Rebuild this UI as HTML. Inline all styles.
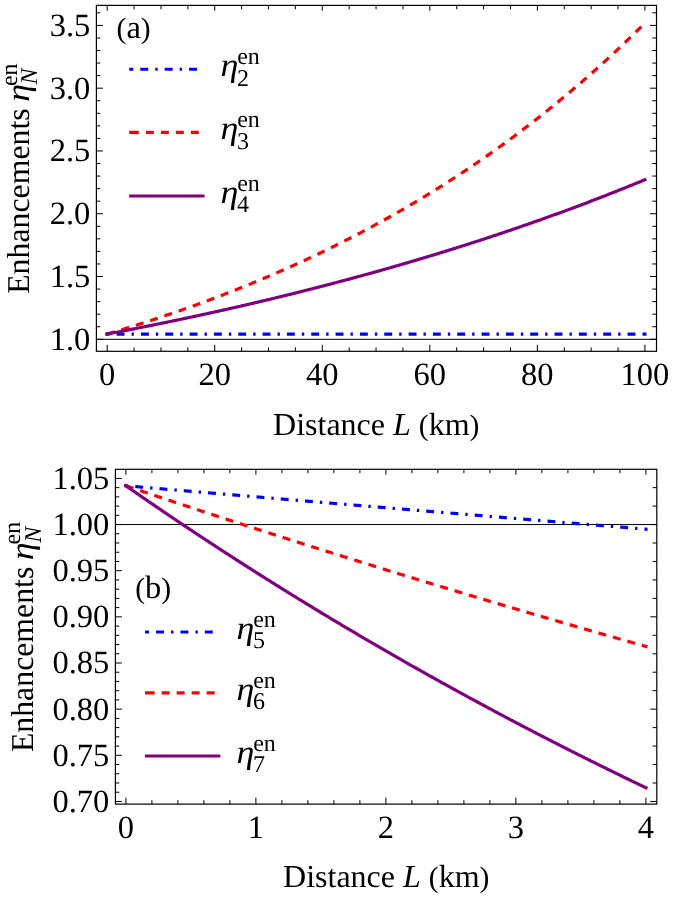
<!DOCTYPE html>
<html lang="en"><head><meta charset="utf-8"><title>Enhancements vs distance</title>
<style>
html,body{margin:0;padding:0;background:#fff;}
body{width:674px;height:897px;overflow:hidden;font-family:"Liberation Serif",serif;}
svg{display:block;will-change:transform;}
text{font-family:"Liberation Serif",serif;fill:#000;text-rendering:geometricPrecision;}
.it{font-style:italic;}
</style></head><body>
<svg width="674" height="897" viewBox="0 0 674 897">
<rect x="0" y="0" width="674" height="897" fill="#fff"/>
<line x1="96.4" y1="339.3" x2="656.5" y2="339.3" stroke="#000" stroke-width="1"/>
<path d="M105.55,334.03L107.2,334.03L108.54,334.03L109.6,334.03M116.6,334.03L116.61,334.03L117.95,334.03L119.3,334.03L120.64,334.03L121.99,334.03L123.33,334.03L124.53,334.03M131.53,334.03L132.74,334.03L133.93,334.03M140.93,334.03L142.15,334.03L143.49,334.03L144.84,334.03L146.18,334.03L147.53,334.03L148.86,334.03M155.86,334.03L156.94,334.03L158.26,334.03M165.26,334.03L166.35,334.03L167.69,334.03L169.04,334.03L170.38,334.03L171.72,334.03L173.07,334.03L173.19,334.03M180.19,334.03L181.13,334.03L182.48,334.03L182.59,334.03M189.59,334.03L190.54,334.03L191.89,334.03L193.23,334.03L194.58,334.03L195.92,334.03L197.26,334.03L197.52,334.03M204.52,334.03L205.33,334.03L206.67,334.03L206.92,334.03M213.92,334.03L214.74,334.03L216.08,334.03L217.43,334.03L218.77,334.03L220.12,334.03L221.46,334.03L221.85,334.03M228.85,334.03L229.53,334.03L230.87,334.03L231.25,334.03M238.25,334.03L238.94,334.03L240.28,334.03L241.62,334.03L242.97,334.03L244.31,334.03L245.66,334.03L246.18,334.03M253.18,334.03L253.72,334.03L255.07,334.03L255.58,334.03M262.58,334.03L263.13,334.03L264.48,334.03L265.82,334.03L267.17,334.03L268.51,334.03L269.85,334.03L270.51,334.03M277.51,334.03L277.92,334.03L279.26,334.03L279.91,334.03M286.91,334.03L287.33,334.03L288.67,334.03L290.02,334.03L291.36,334.03L292.71,334.03L294.05,334.03L294.84,334.03M301.84,334.03L302.12,334.03L303.46,334.03L304.24,334.03M311.24,334.03L311.53,334.03L312.87,334.03L314.21,334.03L315.56,334.03L316.9,334.03L318.25,334.03L319.17,334.03M326.17,334.03L326.31,334.03L327.66,334.03L328.57,334.03M335.57,334.03L335.72,334.03L337.07,334.03L338.41,334.03L339.76,334.03L341.1,334.03L342.44,334.03L343.5,334.03M350.5,334.03L350.51,334.03L351.85,334.03L352.9,334.03M359.9,334.03L359.92,334.03L361.26,334.03L362.61,334.03L363.95,334.03L365.3,334.03L366.64,334.03L367.83,334.03M374.83,334.03L376.05,334.03L377.23,334.03M384.23,334.03L385.46,334.03L386.8,334.03L388.15,334.03L389.49,334.03L390.84,334.03L392.16,334.03M399.16,334.03L400.25,334.03L401.56,334.03M408.56,334.03L409.66,334.03L411,334.03L412.34,334.03L413.69,334.03L415.03,334.03L416.38,334.03L416.49,334.03M423.49,334.03L424.44,334.03L425.79,334.03L425.89,334.03M432.89,334.03L433.85,334.03L435.2,334.03L436.54,334.03L437.89,334.03L439.23,334.03L440.57,334.03L440.82,334.03M447.82,334.03L448.64,334.03L449.98,334.03L450.22,334.03M457.22,334.03L458.05,334.03L459.39,334.03L460.74,334.03L462.08,334.03L463.43,334.03L464.77,334.03L465.15,334.03M472.15,334.03L472.84,334.03L474.18,334.03L474.55,334.03M481.55,334.03L482.25,334.03L483.59,334.03L484.93,334.03L486.28,334.03L487.62,334.03L488.97,334.03L489.48,334.03M496.48,334.03L497.03,334.03L498.38,334.03L498.88,334.03M505.88,334.03L506.44,334.03L507.79,334.03L509.13,334.03L510.47,334.03L511.82,334.03L513.16,334.03L513.81,334.03M520.81,334.03L521.23,334.03L522.57,334.03L523.21,334.03M530.21,334.03L530.64,334.03L531.98,334.03L533.33,334.03L534.67,334.03L536.02,334.03L537.36,334.03L538.14,334.03M545.14,334.03L545.43,334.03L546.77,334.03L547.54,334.03M554.54,334.03L554.84,334.03L556.18,334.03L557.52,334.03L558.87,334.03L560.21,334.03L561.56,334.03L562.47,334.03M569.47,334.03L569.62,334.03L570.97,334.03L571.87,334.03M578.87,334.03L579.03,334.03L580.38,334.03L581.72,334.03L583.06,334.03L584.41,334.03L585.75,334.03L586.8,334.03M593.8,334.03L593.82,334.03L595.16,334.03L596.2,334.03M603.2,334.03L603.23,334.03L604.57,334.03L605.92,334.03L607.26,334.03L608.61,334.03L609.95,334.03L611.13,334.03M618.13,334.03L619.36,334.03L620.53,334.03M627.53,334.03L628.77,334.03L630.11,334.03L631.46,334.03L632.8,334.03L634.15,334.03L635.46,334.03M642.46,334.03L643.56,334.03L644.86,334.03L646.51,334.03" fill="none" stroke="#0000ff" stroke-width="3.2"/>
<path d="M105.62,334.5L107.2,334.03L108.54,333.63L109.89,333.23L111.23,332.83L112.58,332.42L113.92,332.02L114.87,331.74M121.56,329.7L121.99,329.57L123.33,329.16L124.68,328.75L126.02,328.33L127.36,327.92L128.71,327.5L129.21,327.34M135.89,325.25L136.77,324.97L138.12,324.54L139.46,324.12L140.81,323.69L142.15,323.26L143.49,322.83L143.51,322.82M150.17,320.66L150.22,320.65L151.56,320.21L152.9,319.77L154.25,319.33L155.59,318.88L156.94,318.44L157.77,318.16M164.41,315.94L165,315.74L166.35,315.29L167.69,314.83L169.04,314.37L170.38,313.91L171.72,313.45L171.98,313.37M178.6,311.08L179.79,310.66L181.13,310.19L182.48,309.72L183.82,309.25L185.17,308.78L186.14,308.43M192.74,306.08L193.23,305.9L194.58,305.42L195.92,304.93L197.26,304.44L198.61,303.95L199.95,303.46L200.26,303.35M206.83,300.93L208.02,300.49L209.36,299.99L210.71,299.49L212.05,298.98L213.4,298.48L214.32,298.13M220.86,295.64L221.46,295.41L222.81,294.9L224.15,294.38L225.49,293.86L226.84,293.34L228.18,292.82L228.33,292.76M234.84,290.2L234.9,290.18L236.25,289.65L237.59,289.11L238.94,288.58L240.28,288.04L241.62,287.5L242.27,287.24M248.76,284.61L249.69,284.23L251.03,283.68L252.38,283.13L253.72,282.58L255.07,282.02L256.16,281.57M262.62,278.87L263.13,278.65L264.48,278.09L265.82,277.52L267.17,276.95L268.51,276.37L269.85,275.8L269.98,275.74M276.41,272.97L276.58,272.9L277.92,272.32L279.26,271.73L280.61,271.14L281.95,270.55L283.3,269.96L283.74,269.76M290.13,266.92L291.36,266.37L292.71,265.76L294.05,265.16L295.39,264.55L296.74,263.94L297.43,263.63M303.79,260.71L304.8,260.24L306.15,259.61L307.49,258.99L308.84,258.36L310.18,257.73L311.04,257.33M317.37,254.33L318.25,253.91L319.59,253.27L320.94,252.63L322.28,251.98L323.62,251.33L324.58,250.87M330.87,247.8L331.69,247.4L333.03,246.74L334.38,246.07L335.72,245.4L337.07,244.74L338.04,244.25M344.29,241.11L345.13,240.68L346.48,240L347.82,239.31L349.17,238.62L350.51,237.94L351.42,237.47M357.63,234.25L358.57,233.75L359.92,233.05L361.26,232.34L362.61,231.64L363.95,230.93L364.71,230.52M370.89,227.22L372.02,226.62L373.36,225.89L374.71,225.16L376.05,224.43L377.39,223.7L377.92,223.41M384.05,220.04L384.12,220L385.46,219.26L386.8,218.51L388.15,217.76L389.49,217L390.84,216.25L391.04,216.14M397.13,212.68L397.56,212.44L398.9,211.67L400.25,210.9L401.59,210.12L402.94,209.35L404.06,208.69M410.11,205.17L411,204.64L412.34,203.85L413.69,203.05L415.03,202.25L416.38,201.45L416.99,201.09M422.99,197.48L423.1,197.42L424.44,196.6L425.79,195.78L427.13,194.96L428.48,194.14L429.82,193.32M435.77,189.63L436.54,189.15L437.89,188.31L439.23,187.47L440.57,186.63L441.92,185.78L442.55,185.38M448.45,181.62L448.64,181.5L449.98,180.64L451.33,179.77L452.67,178.9L454.02,178.03L455.17,177.28M461.03,173.44L462.08,172.75L463.43,171.86L464.77,170.96L466.11,170.07L467.46,169.17L467.69,169.01M473.49,165.1L474.18,164.64L475.52,163.72L476.87,162.8L478.21,161.88L479.56,160.96L480.1,160.59M485.85,156.6L486.28,156.3L487.62,155.36L488.97,154.42L490.31,153.47L491.66,152.52L492.4,152M498.1,147.94L498.38,147.74L499.72,146.77L501.07,145.8L502.41,144.83L503.75,143.85L504.58,143.25M510.23,139.11L510.47,138.93L511.82,137.94L513.16,136.94L514.51,135.94L515.85,134.94L516.65,134.34M522.24,130.13L522.57,129.88L523.92,128.86L525.26,127.84L526.61,126.81L527.95,125.78L528.6,125.28M534.14,121L534.67,120.59L536.02,119.54L537.36,118.48L538.7,117.43L540.05,116.37L540.44,116.06M545.92,111.71L546.77,111.03L548.11,109.95L549.46,108.87L550.8,107.78L552.15,106.7L552.15,106.69M557.57,102.27L558.87,101.2L560.21,100.1L561.56,98.99L562.9,97.87L563.74,97.17M569.11,92.68L569.62,92.25L570.97,91.11L572.31,89.97L573.65,88.83L575,87.68L575.21,87.5M580.52,82.94L581.72,81.9L583.06,80.73L584.41,79.56L585.75,78.39L586.55,77.69M591.8,73.06L592.47,72.47L593.82,71.27L595.16,70.07L596.51,68.87L597.77,67.73M602.96,63.04L603.23,62.8L604.57,61.57L605.92,60.34L607.26,59.11L608.61,57.87L608.86,57.64M614,52.88L615.33,51.64L616.67,50.38L618.01,49.11L619.36,47.85L619.83,47.4M624.9,42.58L626.08,41.45L627.42,40.16L628.77,38.87L630.11,37.57L630.67,37.03M635.68,32.15L636.83,31.02L638.18,29.7L639.52,28.37L640.87,27.04L641.38,26.53" fill="none" stroke="#ff0000" stroke-width="3.2"/>
<path d="M105.58,334.33L107.2,334.03L108.54,333.77L109.89,333.52L111.23,333.26L112.58,333L113.92,332.75L115.27,332.49L116.61,332.23L117.95,331.97L119.3,331.71L120.64,331.45L121.99,331.19L123.33,330.93L124.68,330.67L126.02,330.41L127.36,330.15L128.71,329.89L130.05,329.62L131.4,329.36L132.74,329.09L134.09,328.83L135.43,328.56L136.77,328.3L138.12,328.03L139.46,327.77L140.81,327.5L142.15,327.23L143.49,326.96L144.84,326.69L146.18,326.42L147.53,326.15L148.87,325.88L150.22,325.61L151.56,325.34L152.9,325.07L154.25,324.8L155.59,324.52L156.94,324.25L158.28,323.98L159.63,323.7L160.97,323.43L162.31,323.15L163.66,322.88L165,322.6L166.35,322.32L167.69,322.04L169.04,321.76L170.38,321.49L171.72,321.21L173.07,320.93L174.41,320.65L175.76,320.36L177.1,320.08L178.45,319.8L179.79,319.52L181.13,319.23L182.48,318.95L183.82,318.67L185.17,318.38L186.51,318.1L187.86,317.81L189.2,317.52L190.54,317.24L191.89,316.95L193.23,316.66L194.58,316.37L195.92,316.08L197.26,315.79L198.61,315.5L199.95,315.21L201.3,314.92L202.64,314.63L203.99,314.33L205.33,314.04L206.67,313.75L208.02,313.45L209.36,313.16L210.71,312.86L212.05,312.56L213.4,312.27L214.74,311.97L216.08,311.67L217.43,311.37L218.77,311.07L220.12,310.77L221.46,310.47L222.81,310.17L224.15,309.87L225.49,309.57L226.84,309.27L228.18,308.96L229.53,308.66L230.87,308.35L232.22,308.05L233.56,307.74L234.9,307.44L236.25,307.13L237.59,306.82L238.94,306.51L240.28,306.21L241.62,305.9L242.97,305.59L244.31,305.28L245.66,304.96L247,304.65L248.35,304.34L249.69,304.03L251.03,303.71L252.38,303.4L253.72,303.09L255.07,302.77L256.41,302.45L257.76,302.14L259.1,301.82L260.44,301.5L261.79,301.18L263.13,300.87L264.48,300.55L265.82,300.23L267.17,299.9L268.51,299.58L269.85,299.26L271.2,298.94L272.54,298.61L273.89,298.29L275.23,297.97L276.58,297.64L277.92,297.31L279.26,296.99L280.61,296.66L281.95,296.33L283.3,296L284.64,295.67L285.99,295.34L287.33,295.01L288.67,294.68L290.02,294.35L291.36,294.02L292.71,293.69L294.05,293.35L295.39,293.02L296.74,292.68L298.08,292.35L299.43,292.01L300.77,291.67L302.12,291.34L303.46,291L304.8,290.66L306.15,290.32L307.49,289.98L308.84,289.64L310.18,289.3L311.53,288.95L312.87,288.61L314.21,288.27L315.56,287.92L316.9,287.58L318.25,287.23L319.59,286.89L320.94,286.54L322.28,286.19L323.62,285.84L324.97,285.5L326.31,285.15L327.66,284.8L329,284.44L330.35,284.09L331.69,283.74L333.03,283.39L334.38,283.03L335.72,282.68L337.07,282.32L338.41,281.97L339.76,281.61L341.1,281.25L342.44,280.9L343.79,280.54L345.13,280.18L346.48,279.82L347.82,279.46L349.17,279.1L350.51,278.73L351.85,278.37L353.2,278.01L354.54,277.64L355.89,277.28L357.23,276.91L358.57,276.55L359.92,276.18L361.26,275.81L362.61,275.44L363.95,275.07L365.3,274.7L366.64,274.33L367.98,273.96L369.33,273.59L370.67,273.22L372.02,272.84L373.36,272.47L374.71,272.09L376.05,271.72L377.39,271.34L378.74,270.96L380.08,270.59L381.43,270.21L382.77,269.83L384.12,269.45L385.46,269.07L386.8,268.69L388.15,268.3L389.49,267.92L390.84,267.54L392.18,267.15L393.53,266.77L394.87,266.38L396.21,265.99L397.56,265.6L398.9,265.22L400.25,264.83L401.59,264.44L402.94,264.05L404.28,263.66L405.62,263.26L406.97,262.87L408.31,262.48L409.66,262.08L411,261.69L412.34,261.29L413.69,260.89L415.03,260.5L416.38,260.1L417.72,259.7L419.07,259.3L420.41,258.9L421.75,258.5L423.1,258.09L424.44,257.69L425.79,257.29L427.13,256.88L428.48,256.48L429.82,256.07L431.16,255.66L432.51,255.26L433.85,254.85L435.2,254.44L436.54,254.03L437.89,253.62L439.23,253.2L440.57,252.79L441.92,252.38L443.26,251.96L444.61,251.55L445.95,251.13L447.3,250.72L448.64,250.3L449.98,249.88L451.33,249.46L452.67,249.04L454.02,248.62L455.36,248.2L456.7,247.78L458.05,247.35L459.39,246.93L460.74,246.51L462.08,246.08L463.43,245.65L464.77,245.23L466.11,244.8L467.46,244.37L468.8,243.94L470.15,243.51L471.49,243.08L472.84,242.64L474.18,242.21L475.52,241.78L476.87,241.34L478.21,240.91L479.56,240.47L480.9,240.03L482.25,239.59L483.59,239.16L484.93,238.72L486.28,238.27L487.62,237.83L488.97,237.39L490.31,236.95L491.66,236.5L493,236.06L494.34,235.61L495.69,235.16L497.03,234.72L498.38,234.27L499.72,233.82L501.07,233.37L502.41,232.92L503.75,232.47L505.1,232.01L506.44,231.56L507.79,231.1L509.13,230.65L510.47,230.19L511.82,229.73L513.16,229.28L514.51,228.82L515.85,228.36L517.2,227.89L518.54,227.43L519.88,226.97L521.23,226.51L522.57,226.04L523.92,225.58L525.26,225.11L526.61,224.64L527.95,224.17L529.29,223.7L530.64,223.23L531.98,222.76L533.33,222.29L534.67,221.82L536.02,221.35L537.36,220.87L538.7,220.39L540.05,219.92L541.39,219.44L542.74,218.96L544.08,218.48L545.43,218L546.77,217.52L548.11,217.04L549.46,216.56L550.8,216.07L552.15,215.59L553.49,215.1L554.84,214.61L556.18,214.13L557.52,213.64L558.87,213.15L560.21,212.66L561.56,212.17L562.9,211.67L564.25,211.18L565.59,210.68L566.93,210.19L568.28,209.69L569.62,209.2L570.97,208.7L572.31,208.2L573.65,207.7L575,207.2L576.34,206.69L577.69,206.19L579.03,205.69L580.38,205.18L581.72,204.67L583.06,204.17L584.41,203.66L585.75,203.15L587.1,202.64L588.44,202.13L589.79,201.62L591.13,201.1L592.47,200.59L593.82,200.07L595.16,199.56L596.51,199.04L597.85,198.52L599.2,198L600.54,197.48L601.88,196.96L603.23,196.44L604.57,195.92L605.92,195.39L607.26,194.87L608.61,194.34L609.95,193.81L611.29,193.29L612.64,192.76L613.98,192.23L615.33,191.69L616.67,191.16L618.01,190.63L619.36,190.09L620.7,189.56L622.05,189.02L623.39,188.48L624.74,187.94L626.08,187.4L627.42,186.86L628.77,186.32L630.11,185.78L631.46,185.23L632.8,184.69L634.15,184.14L635.49,183.6L636.83,183.05L638.18,182.5L639.52,181.95L640.87,181.4L642.21,180.84L643.56,180.29L644.9,179.74L646.43,179.11" fill="none" stroke="#800080" stroke-width="3.2"/>
<rect x="96.4" y="5.4" width="560.1" height="345.9" fill="none" stroke="#000" stroke-width="1.2"/>
<path d="M107.2,351.3v-6.5M107.2,5.4v5.4M134.09,351.3v-3.9M134.09,5.4v3.9M160.97,351.3v-3.9M160.97,5.4v3.9M187.86,351.3v-3.9M187.86,5.4v3.9M214.74,351.3v-6.5M214.74,5.4v5.4M241.62,351.3v-3.9M241.62,5.4v3.9M268.51,351.3v-3.9M268.51,5.4v3.9M295.39,351.3v-3.9M295.39,5.4v3.9M322.28,351.3v-6.5M322.28,5.4v5.4M349.17,351.3v-3.9M349.17,5.4v3.9M376.05,351.3v-3.9M376.05,5.4v3.9M402.94,351.3v-3.9M402.94,5.4v3.9M429.82,351.3v-6.5M429.82,5.4v5.4M456.7,351.3v-3.9M456.7,5.4v3.9M483.59,351.3v-3.9M483.59,5.4v3.9M510.47,351.3v-3.9M510.47,5.4v3.9M537.36,351.3v-6.5M537.36,5.4v5.4M564.25,351.3v-3.9M564.25,5.4v3.9M591.13,351.3v-3.9M591.13,5.4v3.9M618.01,351.3v-3.9M618.01,5.4v3.9M644.9,351.3v-6.5M644.9,5.4v5.4M96.4,339.3h6.5M96.4,326.74h3.9M96.4,314.19h3.9M96.4,301.63h3.9M96.4,289.08h3.9M96.4,276.52h6.5M96.4,263.96h3.9M96.4,251.41h3.9M96.4,238.85h3.9M96.4,226.3h3.9M96.4,213.74h6.5M96.4,201.18h3.9M96.4,188.63h3.9M96.4,176.07h3.9M96.4,163.52h3.9M96.4,150.96h6.5M96.4,138.4h3.9M96.4,125.85h3.9M96.4,113.29h3.9M96.4,100.74h3.9M96.4,88.18h6.5M96.4,75.62h3.9M96.4,63.07h3.9M96.4,50.51h3.9M96.4,37.96h3.9M96.4,25.4h6.5M96.4,12.84h3.9M656.5,339.3h-6.5M656.5,326.74h-4.2M656.5,314.19h-4.2M656.5,301.63h-4.2M656.5,289.08h-4.2M656.5,276.52h-6.5M656.5,263.96h-4.2M656.5,251.41h-4.2M656.5,238.85h-4.2M656.5,226.3h-4.2M656.5,213.74h-6.5M656.5,201.18h-4.2M656.5,188.63h-4.2M656.5,176.07h-4.2M656.5,163.52h-4.2M656.5,150.96h-6.5M656.5,138.4h-4.2M656.5,125.85h-4.2M656.5,113.29h-4.2M656.5,100.74h-4.2M656.5,88.18h-6.5M656.5,75.62h-4.2M656.5,63.07h-4.2M656.5,50.51h-4.2M656.5,37.96h-4.2M656.5,25.4h-6.5M656.5,12.84h-4.2" fill="none" stroke="#000" stroke-width="1"/>
<text x="107.2" y="385.4" font-size="32.5" text-anchor="middle">0</text>
<text x="214.74" y="385.4" font-size="32.5" text-anchor="middle">20</text>
<text x="322.28" y="385.4" font-size="32.5" text-anchor="middle">40</text>
<text x="429.82" y="385.4" font-size="32.5" text-anchor="middle">60</text>
<text x="537.36" y="385.4" font-size="32.5" text-anchor="middle">80</text>
<text x="644.9" y="385.4" font-size="32.5" text-anchor="middle">100</text>
<text x="90.3" y="349.7" font-size="32.5" text-anchor="end">1.0</text>
<text x="90.3" y="286.92" font-size="32.5" text-anchor="end">1.5</text>
<text x="90.3" y="224.14" font-size="32.5" text-anchor="end">2.0</text>
<text x="90.3" y="161.36" font-size="32.5" text-anchor="end">2.5</text>
<text x="90.3" y="98.58" font-size="32.5" text-anchor="end">3.0</text>
<text x="90.3" y="35.8" font-size="32.5" text-anchor="end">3.5</text>
<line x1="115.4" y1="524.55" x2="656.8" y2="524.55" stroke="#000" stroke-width="1"/>
<path d="M124.26,485.64L125.9,485.78L127.2,485.89L128.29,485.99M135.27,486.58L136.3,486.67L137.6,486.78L138.9,486.89L140.2,487L141.5,487.11L142.8,487.23L143.17,487.26M150.14,487.85L150.6,487.89L151.9,488L152.53,488.06M159.51,488.65L159.7,488.67L161,488.78L162.3,488.89L163.6,489L164.9,489.11L166.2,489.22L167.41,489.32M174.38,489.91L175.3,489.99L176.6,490.1L176.78,490.12M183.75,490.71L184.4,490.77L185.7,490.88L187,490.99L188.3,491.1L189.6,491.21L190.9,491.32L191.65,491.38M198.63,491.97L198.7,491.98L200,492.09L201.02,492.18M207.99,492.77L209.1,492.86L210.4,492.97L211.7,493.08L213,493.19L214.3,493.3L215.6,493.41L215.9,493.44M222.87,494.03L223.4,494.07L224.7,494.18L225.26,494.23M232.24,494.82L232.5,494.84L233.8,494.95L235.1,495.06L236.4,495.17L237.7,495.28L239,495.39L240.14,495.49M247.11,496.08L248.1,496.16L249.4,496.27L249.51,496.28M256.48,496.87L257.2,496.93L258.5,497.04L259.8,497.15L261.1,497.26L262.4,497.37L263.7,497.48L264.38,497.53M271.36,498.12L271.5,498.13L272.8,498.24L273.75,498.32M280.72,498.91L281.9,499.01L283.2,499.12L284.5,499.23L285.8,499.34L287.1,499.45L288.4,499.56L288.63,499.58M295.6,500.16L296.2,500.21L297.5,500.32L297.99,500.36M304.97,500.95L305.3,500.98L306.6,501.09L307.9,501.2L309.2,501.31L310.5,501.42L311.8,501.53L312.87,501.61M319.85,502.2L320.9,502.29L322.2,502.4L322.24,502.4M329.21,502.99L330,503.05L331.3,503.16L332.6,503.27L333.9,503.38L335.2,503.49L336.5,503.6L337.12,503.65M344.09,504.23L344.3,504.25L345.6,504.36L346.48,504.43M353.46,505.02L354.7,505.12L356,505.23L357.3,505.34L358.6,505.45L359.9,505.56L361.2,505.66L361.36,505.68M368.34,506.26L369,506.32L370.3,506.42L370.73,506.46M377.7,507.04L378.1,507.08L379.4,507.18L380.7,507.29L382,507.4L383.3,507.51L384.6,507.62L385.61,507.7M392.58,508.28L393.7,508.38L394.97,508.48M401.95,509.07L402.8,509.14L404.1,509.24L405.4,509.35L406.7,509.46L408,509.57L409.3,509.68L409.85,509.72M416.83,510.3L417.1,510.33L418.4,510.43L419.22,510.5M426.2,511.08L426.2,511.08L427.5,511.19L428.8,511.3L430.1,511.41L431.4,511.52L432.7,511.62L434,511.73L434.1,511.74M441.07,512.32L441.8,512.38L443.1,512.49L443.47,512.52M450.44,513.1L450.9,513.13L452.2,513.24L453.5,513.35L454.8,513.46L456.1,513.57L457.4,513.67L458.35,513.75M465.32,514.33L466.5,514.43L467.71,514.53M474.69,515.11L475.6,515.18L476.9,515.29L478.2,515.4L479.5,515.5L480.8,515.61L482.1,515.72L482.59,515.76M489.57,516.34L489.9,516.36L491.2,516.47L491.96,516.53M498.94,517.11L499,517.12L500.3,517.22L501.6,517.33L502.9,517.44L504.2,517.55L505.5,517.65L506.8,517.76L506.84,517.76M513.82,518.34L514.6,518.4L515.9,518.51L516.21,518.54M523.18,519.11L523.7,519.15L525,519.26L526.3,519.37L527.6,519.47L528.9,519.58L530.2,519.69L531.09,519.76M538.06,520.34L539.3,520.44L540.46,520.53M547.43,521.11L548.4,521.19L549.7,521.29L551,521.4L552.3,521.51L553.6,521.61L554.9,521.72L555.34,521.76M562.31,522.33L562.7,522.36L564,522.47L564.7,522.53M571.68,523.1L571.8,523.11L573.1,523.22L574.4,523.32L575.7,523.43L577,523.54L578.3,523.64L579.58,523.75M586.56,524.32L587.4,524.39L588.7,524.5L588.95,524.52M595.93,525.09L596.5,525.13L597.8,525.24L599.1,525.35L600.4,525.45L601.7,525.56L603,525.67L603.83,525.73M610.81,526.3L612.1,526.41L613.2,526.5M620.18,527.07L621.2,527.15L622.5,527.26L623.8,527.37L625.1,527.47L626.4,527.58L627.7,527.69L628.08,527.72M635.06,528.29L635.5,528.32L636.8,528.43L637.45,528.48M644.43,529.05L644.6,529.06L645.9,529.17L647.54,529.3" fill="none" stroke="#0000ff" stroke-width="3.2"/>
<path d="M124.34,485.26L125.9,485.78L127.2,486.22L128.5,486.66L129.8,487.1L131.1,487.54L132.4,487.98L133.48,488.34M140.11,490.58L140.2,490.6L141.5,491.04L142.8,491.48L144.1,491.92L145.4,492.35L146.7,492.79L147.7,493.12M154.34,495.35L154.5,495.4L155.8,495.84L157.1,496.27L158.4,496.7L159.7,497.14L161,497.57L161.92,497.88M168.56,500.09L168.8,500.17L170.1,500.61L171.4,501.04L172.7,501.47L174,501.9L175.3,502.33L176.16,502.62M182.8,504.82L183.1,504.92L184.4,505.35L185.7,505.78L187,506.21L188.3,506.64L189.6,507.07L190.39,507.33M197.04,509.53L197.4,509.65L198.7,510.07L200,510.5L201.3,510.93L202.6,511.36L203.9,511.79L204.64,512.03M211.29,514.21L211.7,514.35L213,514.77L214.3,515.2L215.6,515.63L216.9,516.05L218.2,516.48L218.89,516.7M225.55,518.88L226,519.02L227.3,519.45L228.6,519.87L229.9,520.3L231.2,520.72L232.5,521.14L233.15,521.36M239.81,523.52L240.3,523.68L241.6,524.1L242.9,524.52L244.2,524.94L245.5,525.37L246.8,525.79L247.42,525.99M254.08,528.14L254.6,528.31L255.9,528.73L257.2,529.15L258.5,529.57L259.8,529.99L261.1,530.41L261.7,530.6M268.36,532.74L268.9,532.92L270.2,533.33L271.5,533.75L272.8,534.17L274.1,534.59L275.4,535L275.98,535.19M282.64,537.32L283.2,537.5L284.5,537.92L285.8,538.33L287.1,538.75L288.4,539.16L289.7,539.58L290.26,539.76M296.93,541.88L297.5,542.06L298.8,542.48L300.1,542.89L301.4,543.3L302.7,543.72L304,544.13L304.56,544.3M311.23,546.42L311.8,546.6L313.1,547.01L314.4,547.42L315.7,547.83L317,548.25L318.3,548.66L318.86,548.83M325.53,550.94L326.1,551.12L327.4,551.53L328.7,551.94L330,552.34L331.3,552.75L332.6,553.16L333.16,553.34M339.84,555.44L340.4,555.61L341.7,556.02L343,556.42L344.3,556.83L345.6,557.24L346.9,557.64L347.48,557.83M354.16,559.91L354.7,560.08L356,560.49L357.3,560.89L358.6,561.3L359.9,561.7L361.2,562.1L361.8,562.29M368.48,564.37L369,564.53L370.3,564.93L371.6,565.33L372.9,565.74L374.2,566.14L375.5,566.54L376.12,566.74M382.81,568.8L383.3,568.95L384.6,569.36L385.9,569.76L387.2,570.16L388.5,570.56L389.8,570.96L390.46,571.16M397.15,573.22L397.6,573.36L398.9,573.76L400.2,574.16L401.5,574.56L402.8,574.95L404.1,575.35L404.8,575.57M411.49,577.61L411.9,577.74L413.2,578.14L414.5,578.53L415.8,578.93L417.1,579.33L418.4,579.72L419.14,579.95M425.84,581.99L426.2,582.1L427.5,582.49L428.8,582.89L430.1,583.28L431.4,583.68L432.7,584.07L433.49,584.31M440.19,586.34L440.5,586.44L441.8,586.83L443.1,587.22L444.4,587.62L445.7,588.01L447,588.4L447.85,588.66M454.55,590.68L454.8,590.75L456.1,591.14L457.4,591.54L458.7,591.93L460,592.32L461.3,592.71L462.21,592.98M468.92,594.99L469.1,595.05L470.4,595.44L471.7,595.83L473,596.22L474.3,596.6L475.6,596.99L476.58,597.29M483.29,599.29L483.4,599.32L484.7,599.71L486,600.1L487.3,600.48L488.6,600.87L489.9,601.26L490.96,601.57M497.67,603.56L497.7,603.57L499,603.96L500.3,604.34L501.6,604.73L502.9,605.11L504.2,605.5L505.34,605.83M512.05,607.82L513.3,608.19L514.6,608.57L515.9,608.95L517.2,609.34L518.5,609.72L519.72,610.08M526.44,612.05L527.6,612.39L528.9,612.77L530.2,613.16L531.5,613.54L532.8,613.92L534.1,614.3L534.12,614.3M540.84,616.27L541.9,616.58L543.2,616.96L544.5,617.34L545.8,617.72L547.1,618.1L548.4,618.47L548.52,618.51M555.24,620.46L556.2,620.74L557.5,621.12L558.8,621.5L560.1,621.88L561.4,622.25L562.7,622.63L562.92,622.69M569.64,624.64L570.5,624.89L571.8,625.26L573.1,625.64L574.4,626.01L575.7,626.39L577,626.76L577.33,626.86M584.06,628.8L584.8,629.01L586.1,629.39L587.4,629.76L588.7,630.13L590,630.51L591.3,630.88L591.75,631.01M598.47,632.93L599.1,633.11L600.4,633.49L601.7,633.86L603,634.23L604.3,634.6L605.6,634.97L606.17,635.13M612.9,637.05L613.4,637.2L614.7,637.57L616,637.94L617.3,638.31L618.6,638.68L619.9,639.04L620.59,639.24M627.33,641.15L627.7,641.26L629,641.63L630.3,641.99L631.6,642.36L632.9,642.73L634.2,643.1L635.02,643.33M641.76,645.23L642,645.3L643.3,645.67L644.6,646.03L645.9,646.4L647.49,646.84" fill="none" stroke="#ff0000" stroke-width="3.2"/>
<path d="M124.55,484.84L125.9,485.78L127.2,486.69L128.5,487.59L129.8,488.5L131.1,489.4L132.4,490.3L133.7,491.2L135,492.11L136.3,493L137.6,493.9L138.9,494.8L140.2,495.7L141.5,496.59L142.8,497.49L144.1,498.38L145.4,499.28L146.7,500.17L148,501.06L149.3,501.95L150.6,502.84L151.9,503.73L153.2,504.62L154.5,505.51L155.8,506.4L157.1,507.28L158.4,508.17L159.7,509.05L161,509.94L162.3,510.82L163.6,511.7L164.9,512.58L166.2,513.46L167.5,514.34L168.8,515.22L170.1,516.1L171.4,516.98L172.7,517.85L174,518.73L175.3,519.6L176.6,520.48L177.9,521.35L179.2,522.22L180.5,523.09L181.8,523.96L183.1,524.83L184.4,525.7L185.7,526.57L187,527.44L188.3,528.3L189.6,529.17L190.9,530.03L192.2,530.9L193.5,531.76L194.8,532.62L196.1,533.48L197.4,534.34L198.7,535.2L200,536.06L201.3,536.92L202.6,537.78L203.9,538.64L205.2,539.49L206.5,540.35L207.8,541.2L209.1,542.05L210.4,542.91L211.7,543.76L213,544.61L214.3,545.46L215.6,546.31L216.9,547.16L218.2,548L219.5,548.85L220.8,549.7L222.1,550.54L223.4,551.39L224.7,552.23L226,553.07L227.3,553.92L228.6,554.76L229.9,555.6L231.2,556.44L232.5,557.28L233.8,558.12L235.1,558.95L236.4,559.79L237.7,560.63L239,561.46L240.3,562.3L241.6,563.13L242.9,563.96L244.2,564.79L245.5,565.62L246.8,566.46L248.1,567.28L249.4,568.11L250.7,568.94L252,569.77L253.3,570.6L254.6,571.42L255.9,572.25L257.2,573.07L258.5,573.89L259.8,574.72L261.1,575.54L262.4,576.36L263.7,577.18L265,578L266.3,578.82L267.6,579.64L268.9,580.45L270.2,581.27L271.5,582.08L272.8,582.9L274.1,583.71L275.4,584.53L276.7,585.34L278,586.15L279.3,586.96L280.6,587.77L281.9,588.58L283.2,589.39L284.5,590.2L285.8,591.01L287.1,591.81L288.4,592.62L289.7,593.42L291,594.23L292.3,595.03L293.6,595.83L294.9,596.64L296.2,597.44L297.5,598.24L298.8,599.04L300.1,599.84L301.4,600.63L302.7,601.43L304,602.23L305.3,603.02L306.6,603.82L307.9,604.61L309.2,605.41L310.5,606.2L311.8,606.99L313.1,607.78L314.4,608.57L315.7,609.36L317,610.15L318.3,610.94L319.6,611.73L320.9,612.52L322.2,613.3L323.5,614.09L324.8,614.87L326.1,615.66L327.4,616.44L328.7,617.22L330,618.01L331.3,618.79L332.6,619.57L333.9,620.35L335.2,621.12L336.5,621.9L337.8,622.68L339.1,623.46L340.4,624.23L341.7,625.01L343,625.78L344.3,626.56L345.6,627.33L346.9,628.1L348.2,628.87L349.5,629.64L350.8,630.41L352.1,631.18L353.4,631.95L354.7,632.72L356,633.49L357.3,634.25L358.6,635.02L359.9,635.78L361.2,636.55L362.5,637.31L363.8,638.08L365.1,638.84L366.4,639.6L367.7,640.36L369,641.12L370.3,641.88L371.6,642.64L372.9,643.4L374.2,644.15L375.5,644.91L376.8,645.67L378.1,646.42L379.4,647.17L380.7,647.93L382,648.68L383.3,649.43L384.6,650.18L385.9,650.94L387.2,651.69L388.5,652.43L389.8,653.18L391.1,653.93L392.4,654.68L393.7,655.43L395,656.17L396.3,656.92L397.6,657.66L398.9,658.4L400.2,659.15L401.5,659.89L402.8,660.63L404.1,661.37L405.4,662.11L406.7,662.85L408,663.59L409.3,664.33L410.6,665.07L411.9,665.8L413.2,666.54L414.5,667.27L415.8,668.01L417.1,668.74L418.4,669.48L419.7,670.21L421,670.94L422.3,671.67L423.6,672.4L424.9,673.13L426.2,673.86L427.5,674.59L428.8,675.32L430.1,676.04L431.4,676.77L432.7,677.5L434,678.22L435.3,678.95L436.6,679.67L437.9,680.39L439.2,681.12L440.5,681.84L441.8,682.56L443.1,683.28L444.4,684L445.7,684.72L447,685.44L448.3,686.15L449.6,686.87L450.9,687.59L452.2,688.3L453.5,689.02L454.8,689.73L456.1,690.44L457.4,691.16L458.7,691.87L460,692.58L461.3,693.29L462.6,694L463.9,694.71L465.2,695.42L466.5,696.13L467.8,696.84L469.1,697.54L470.4,698.25L471.7,698.95L473,699.66L474.3,700.36L475.6,701.07L476.9,701.77L478.2,702.47L479.5,703.17L480.8,703.87L482.1,704.57L483.4,705.27L484.7,705.97L486,706.67L487.3,707.37L488.6,708.07L489.9,708.76L491.2,709.46L492.5,710.15L493.8,710.85L495.1,711.54L496.4,712.23L497.7,712.93L499,713.62L500.3,714.31L501.6,715L502.9,715.69L504.2,716.38L505.5,717.07L506.8,717.75L508.1,718.44L509.4,719.13L510.7,719.81L512,720.5L513.3,721.18L514.6,721.87L515.9,722.55L517.2,723.23L518.5,723.91L519.8,724.6L521.1,725.28L522.4,725.96L523.7,726.64L525,727.32L526.3,727.99L527.6,728.67L528.9,729.35L530.2,730.02L531.5,730.7L532.8,731.37L534.1,732.05L535.4,732.72L536.7,733.4L538,734.07L539.3,734.74L540.6,735.41L541.9,736.08L543.2,736.75L544.5,737.42L545.8,738.09L547.1,738.76L548.4,739.42L549.7,740.09L551,740.76L552.3,741.42L553.6,742.09L554.9,742.75L556.2,743.42L557.5,744.08L558.8,744.74L560.1,745.4L561.4,746.06L562.7,746.72L564,747.38L565.3,748.04L566.6,748.7L567.9,749.36L569.2,750.02L570.5,750.67L571.8,751.33L573.1,751.99L574.4,752.64L575.7,753.3L577,753.95L578.3,754.6L579.6,755.25L580.9,755.91L582.2,756.56L583.5,757.21L584.8,757.86L586.1,758.51L587.4,759.16L588.7,759.8L590,760.45L591.3,761.1L592.6,761.75L593.9,762.39L595.2,763.04L596.5,763.68L597.8,764.32L599.1,764.97L600.4,765.61L601.7,766.25L603,766.89L604.3,767.53L605.6,768.18L606.9,768.81L608.2,769.45L609.5,770.09L610.8,770.73L612.1,771.37L613.4,772L614.7,772.64L616,773.28L617.3,773.91L618.6,774.54L619.9,775.18L621.2,775.81L622.5,776.44L623.8,777.08L625.1,777.71L626.4,778.34L627.7,778.97L629,779.6L630.3,780.23L631.6,780.85L632.9,781.48L634.2,782.11L635.5,782.74L636.8,783.36L638.1,783.99L639.4,784.61L640.7,785.24L642,785.86L643.3,786.48L644.6,787.11L645.9,787.73L647.39,788.44" fill="none" stroke="#800080" stroke-width="3.2"/>
<rect x="115.4" y="469.3" width="541.4" height="334.8" fill="none" stroke="#000" stroke-width="1.2"/>
<path d="M125.9,804.1v-6.5M125.9,469.3v5.4M151.9,804.1v-3.9M151.9,469.3v3.9M177.9,804.1v-3.9M177.9,469.3v3.9M203.9,804.1v-3.9M203.9,469.3v3.9M229.9,804.1v-3.9M229.9,469.3v3.9M255.9,804.1v-6.5M255.9,469.3v5.4M281.9,804.1v-3.9M281.9,469.3v3.9M307.9,804.1v-3.9M307.9,469.3v3.9M333.9,804.1v-3.9M333.9,469.3v3.9M359.9,804.1v-3.9M359.9,469.3v3.9M385.9,804.1v-6.5M385.9,469.3v5.4M411.9,804.1v-3.9M411.9,469.3v3.9M437.9,804.1v-3.9M437.9,469.3v3.9M463.9,804.1v-3.9M463.9,469.3v3.9M489.9,804.1v-3.9M489.9,469.3v3.9M515.9,804.1v-6.5M515.9,469.3v5.4M541.9,804.1v-3.9M541.9,469.3v3.9M567.9,804.1v-3.9M567.9,469.3v3.9M593.9,804.1v-3.9M593.9,469.3v3.9M619.9,804.1v-3.9M619.9,469.3v3.9M645.9,804.1v-6.5M645.9,469.3v5.4M115.4,801.45h6.5M115.4,792.22h3.9M115.4,782.99h3.9M115.4,773.76h3.9M115.4,764.53h3.9M115.4,755.3h6.5M115.4,746.07h3.9M115.4,736.84h3.9M115.4,727.61h3.9M115.4,718.38h3.9M115.4,709.15h6.5M115.4,699.92h3.9M115.4,690.69h3.9M115.4,681.46h3.9M115.4,672.23h3.9M115.4,663h6.5M115.4,653.77h3.9M115.4,644.54h3.9M115.4,635.31h3.9M115.4,626.08h3.9M115.4,616.85h6.5M115.4,607.62h3.9M115.4,598.39h3.9M115.4,589.16h3.9M115.4,579.93h3.9M115.4,570.7h6.5M115.4,561.47h3.9M115.4,552.24h3.9M115.4,543.01h3.9M115.4,533.78h3.9M115.4,524.55h6.5M115.4,515.32h3.9M115.4,506.09h3.9M115.4,496.86h3.9M115.4,487.63h3.9M115.4,478.4h6.5M656.8,801.45h-6.5M656.8,782.99h-4.2M656.8,764.53h-4.2M656.8,746.07h-4.2M656.8,727.61h-4.2M656.8,709.15h-6.5M656.8,690.69h-4.2M656.8,672.23h-4.2M656.8,653.77h-4.2M656.8,635.31h-4.2M656.8,616.85h-6.5M656.8,598.39h-4.2M656.8,579.93h-4.2M656.8,561.47h-4.2M656.8,543.01h-4.2M656.8,524.55h-6.5M656.8,506.09h-4.2M656.8,487.63h-4.2" fill="none" stroke="#000" stroke-width="1"/>
<text x="125.9" y="838" font-size="32.5" text-anchor="middle">0</text>
<text x="255.9" y="838" font-size="32.5" text-anchor="middle">1</text>
<text x="385.9" y="838" font-size="32.5" text-anchor="middle">2</text>
<text x="515.9" y="838" font-size="32.5" text-anchor="middle">3</text>
<text x="645.9" y="838" font-size="32.5" text-anchor="middle">4</text>
<text x="109.3" y="811.85" font-size="32.5" text-anchor="end">0.70</text>
<text x="109.3" y="765.7" font-size="32.5" text-anchor="end">0.75</text>
<text x="109.3" y="719.55" font-size="32.5" text-anchor="end">0.80</text>
<text x="109.3" y="673.4" font-size="32.5" text-anchor="end">0.85</text>
<text x="109.3" y="627.25" font-size="32.5" text-anchor="end">0.90</text>
<text x="109.3" y="581.1" font-size="32.5" text-anchor="end">0.95</text>
<text x="109.3" y="534.95" font-size="32.5" text-anchor="end">1.00</text>
<text x="109.3" y="488.8" font-size="32.5" text-anchor="end">1.05</text>
<text x="376.2" y="434.6" font-size="32" text-anchor="middle">Distance <tspan class="it">L</tspan> <tspan font-size="29.5">(</tspan>km<tspan font-size="29.5">)</tspan></text>
<text x="386.2" y="887" font-size="32" text-anchor="middle">Distance <tspan class="it">L</tspan> <tspan font-size="29.5">(</tspan>km<tspan font-size="29.5">)</tspan></text>
<g transform="translate(29,293.8) rotate(-90)">
<text x="0" y="0" font-size="31.8">Enhancements</text>
<text transform="translate(191.95 0) scale(1.09 1)" font-size="33" class="it">η</text><text x="209.3" y="8.2" font-size="24" class="it">N</text><text x="207.7" y="-12.3" font-size="24">en</text>
</g>
<g transform="translate(32.7,752.1) rotate(-90)">
<text x="0" y="0" font-size="31.8">Enhancements</text>
<text transform="translate(191.95 0) scale(1.09 1)" font-size="33" class="it">η</text><text x="209.3" y="8.2" font-size="24" class="it">N</text><text x="207.7" y="-12.3" font-size="24">en</text>
</g>
<path d="M129.2,69.25L130.85,69.25L133.25,69.25M140.25,69.25L148.25,69.25M155.25,69.25L157.65,69.25M164.65,69.25L166.9,69.25L172.65,69.25M179.65,69.25L182.05,69.25M189.05,69.25L197.05,69.25" fill="none" stroke="#0000ff" stroke-width="3.2"/>
<text transform="translate(220.5 75.85) scale(1.09 1)" font-size="33" class="it">η</text><text x="237.1" y="85.65" font-size="24">2</text><text x="237.2" y="63.85" font-size="24">en</text>
<path d="M129.2,132.45L130.85,132.45L138.85,132.45M145.85,132.45L148.88,132.45L153.85,132.45M160.85,132.45L166.9,132.45L168.85,132.45M175.85,132.45L183.85,132.45M190.85,132.45L198.85,132.45" fill="none" stroke="#ff0000" stroke-width="3.2"/>
<text transform="translate(220.5 139.05) scale(1.09 1)" font-size="33" class="it">η</text><text x="237.1" y="148.85" font-size="24">3</text><text x="237.2" y="127.05" font-size="24">en</text>
<path d="M129.2,196L130.85,196L148.88,196L166.9,196L184.92,196L202.95,196L204.6,196" fill="none" stroke="#800080" stroke-width="3.2"/>
<text transform="translate(220.5 202.6) scale(1.09 1)" font-size="33" class="it">η</text><text x="237.1" y="212.4" font-size="24">4</text><text x="237.2" y="190.6" font-size="24">en</text>
<path d="M145,632L146.65,632L149.05,632M156.05,632L164.05,632M171.05,632L173.45,632M180.45,632L182.7,632L188.45,632M195.45,632L197.85,632M204.85,632L212.85,632" fill="none" stroke="#0000ff" stroke-width="3.2"/>
<text transform="translate(236.5 638.6) scale(1.09 1)" font-size="33" class="it">η</text><text x="253.1" y="648.4" font-size="24">5</text><text x="253.2" y="626.6" font-size="24">en</text>
<path d="M145,692.9L146.65,692.9L154.65,692.9M161.65,692.9L164.68,692.9L169.65,692.9M176.65,692.9L182.7,692.9L184.65,692.9M191.65,692.9L199.65,692.9M206.65,692.9L214.65,692.9" fill="none" stroke="#ff0000" stroke-width="3.2"/>
<text transform="translate(236.5 699.5) scale(1.09 1)" font-size="33" class="it">η</text><text x="253.1" y="709.3" font-size="24">6</text><text x="253.2" y="687.5" font-size="24">en</text>
<path d="M145,756L146.65,756L164.68,756L182.7,756L200.72,756L218.75,756L220.4,756" fill="none" stroke="#800080" stroke-width="3.2"/>
<text transform="translate(236.5 762.6) scale(1.09 1)" font-size="33" class="it">η</text><text x="253.1" y="772.4" font-size="24">7</text><text x="253.2" y="750.6" font-size="24">en</text>
<text x="116.6" y="38.4" font-size="32.5"><tspan font-size="29.5">(</tspan>a<tspan font-size="29.5">)</tspan></text>
<text x="135.2" y="597.5" font-size="32.5"><tspan font-size="29.5">(</tspan>b<tspan font-size="29.5">)</tspan></text>
</svg></body></html>
